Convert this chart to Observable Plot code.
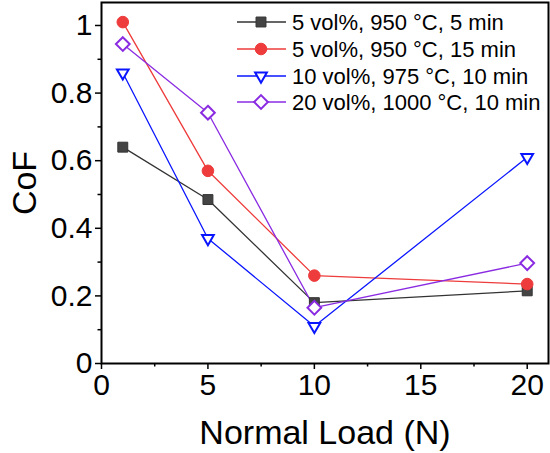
<!DOCTYPE html>
<html>
<head>
<meta charset="utf-8">
<script src="https://cdn.jsdelivr.net/npm/d3@7"></script>
<script src="https://cdn.jsdelivr.net/npm/@observablehq/plot@0.6"></script>
<style>
  html, body { margin: 0; padding: 0; background: #fff; }
  svg { font-family: "Liberation Sans", Arial, sans-serif; }
</style>
</head>
<body>
<div id="chart"></div>
<script>
const loads = [1, 5, 10, 20];
const seriesNames = [
  "5 vol%, 950 °C, 5 min",
  "5 vol%, 950 °C, 15 min",
  "10 vol%, 975 °C, 10 min",
  "20 vol%, 1000 °C, 10 min"
];
const cofA = [0.64, 0.485, 0.18, 0.215];
const cofB = [1.01, 0.57, 0.26, 0.235];
const cofC = [0.86, 0.37, 0.11, 0.61];
const cofD = [0.945, 0.742, 0.165, 0.297];
const yMajor = [0, 0.2, 0.4, 0.6, 0.8, 1];
const yMinor = [0.1, 0.3, 0.5, 0.7, 0.9];
const xMajor = [0, 5, 10, 15, 20];
const xMinor = [2.5, 7.5, 12.5, 17.5];

const colors = ["#333333", "#ee3b3b", "#0a16ff", "#8a2be2"];
const fills = ["#444444", "#ee3b3b", "#ffffff", "#ffffff"];
const symbols = ["square", "circle", "triangle2", "diamond2"];
const rotates = [0, 0, 180, 0];
const radii = [5.6, 5.8, 5.6, 6.2];
const allSeries = [cofA, cofB, cofC, cofD];

const data = allSeries.flatMap((vals, i) =>
  vals.map((v, j) => ({ series: seriesNames[i], idx: i, load: loads[j], cof: v }))
);

const marks = [];
allSeries.forEach((vals, i) => {
  const d = data.filter(r => r.idx === i);
  marks.push(Plot.line(d, { x: "load", y: "cof", stroke: colors[i], strokeWidth: 1.3 }));
});
allSeries.forEach((vals, i) => {
  const d = data.filter(r => r.idx === i);
  marks.push(Plot.dot(d, {
    x: "load", y: "cof", symbol: () => symbols[i], r: radii[i],
    fill: fills[i], stroke: colors[i], strokeWidth: i >= 2 ? 2 : 1,
    rotate: rotates[i]
  }));
});

const fmt = d => d === 0 ? "0" : d === 1 ? "1" : d.toFixed(1);

const plot = Plot.plot({
  width: 550,
  height: 453,
  marginLeft: 101,
  marginRight: 2,
  marginTop: 2,
  marginBottom: 90,
  style: { fontFamily: "Liberation Sans, Arial, sans-serif", color: "#000", background: "#fff" },
  x: { domain: [0, 21] },
  y: { domain: [0, 1.068] },
  symbol: { type: "identity" },
  marks: [
    ...marks,
    Plot.frame({ stroke: "#000", strokeWidth: 2 }),
    Plot.axisY({ ticks: yMajor, tickFormat: fmt, tickSize: 6, tickPadding: 3, fontSize: 30, label: "CoF", labelAnchor: "center", labelArrow: "none", labelOffset: 90, strokeWidth: 1.5 }),
    Plot.axisY({ ticks: yMinor, tickSize: 3.5, text: null, label: null, strokeWidth: 1.5 }),
    Plot.axisX({ ticks: xMajor, tickFormat: d => String(d), tickSize: 6, tickPadding: 4, fontSize: 30, label: "Normal Load (N)", labelAnchor: "center", labelArrow: "none", labelOffset: 80, strokeWidth: 1.5 }),
    Plot.axisX({ ticks: xMinor, tickSize: 3.5, text: null, label: null, strokeWidth: 1.5 })
  ]
});

document.getElementById("chart").appendChild(plot);

const svg = d3.select(plot);
svg.selectAll('g[aria-label="y-axis label"] text').style("font-size", "34px");
svg.selectAll('g[aria-label="x-axis label"] text').style("font-size", "34px");

// legend
const lg = svg.append("g").attr("class", "legend").attr("text-anchor", "start");
const rowY = [22, 49, 76, 102];
seriesNames.forEach((name, i) => {
  const y = rowY[i];
  lg.append("line").attr("x1", 237).attr("x2", 286).attr("y1", y).attr("y2", y)
    .attr("stroke", colors[i]).attr("stroke-width", 1.3);
  const sym = d3.symbol(
    i === 0 ? d3.symbolSquare : i === 1 ? d3.symbolCircle : i === 2 ? d3.symbolTriangle2 : d3.symbolDiamond2,
    Math.PI * radii[i] * radii[i]
  );
  lg.append("path").attr("d", sym())
    .attr("transform", `translate(261,${y}) rotate(${rotates[i]})`)
    .attr("fill", fills[i]).attr("stroke", colors[i]).attr("stroke-width", i >= 2 ? 2 : 1);
  lg.append("text").attr("x", 292).attr("y", y).attr("dy", "0.36em")
    .attr("text-anchor", "start")
    .attr("font-size", 22).attr("fill", "#000").text(name);
});
</script>
</body>
</html>
